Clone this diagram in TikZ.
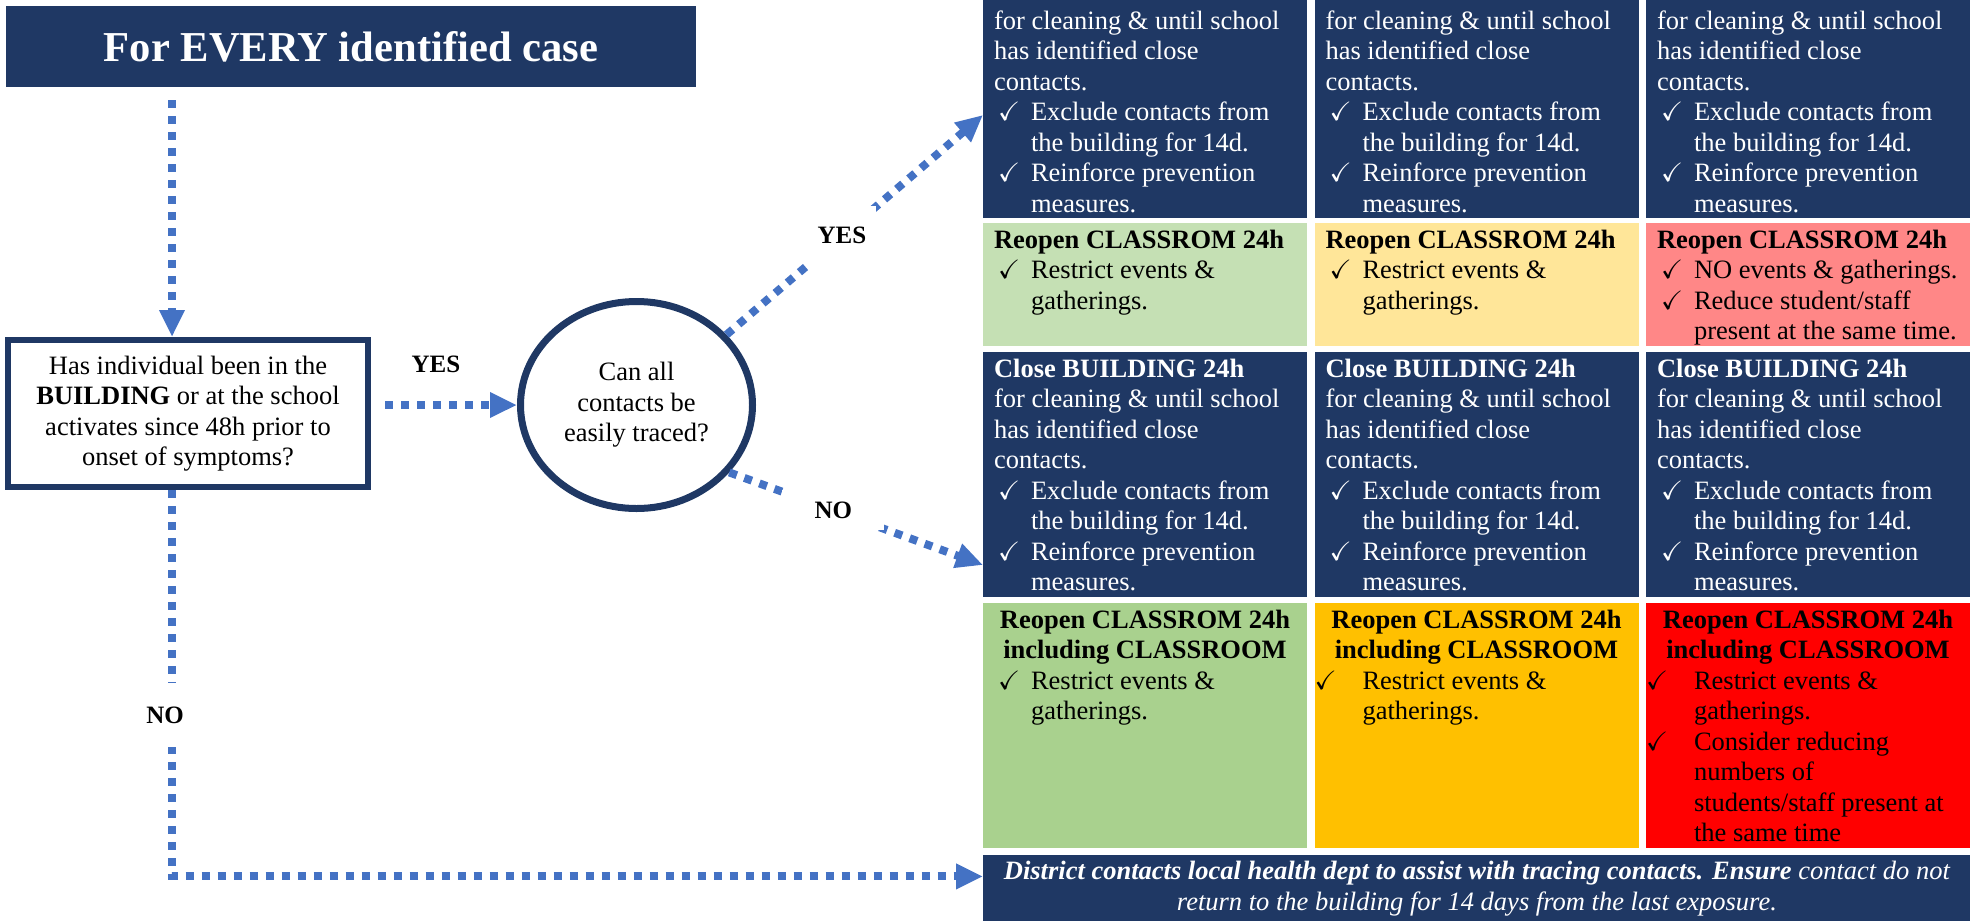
\documentclass[tikz,border=0pt]{standalone}
\usepackage{amssymb}
\usepackage{fontspec}
\setmainfont{Liberation Serif}
\usetikzlibrary{arrows.meta,positioning,shapes.geometric}
\definecolor{navy}{RGB}{31,56,100}
\definecolor{flowblue}{RGB}{68,114,196}
\definecolor{palegreen}{RGB}{197,224,180}
\definecolor{paleyellow}{RGB}{255,230,153}
\definecolor{palered}{RGB}{255,135,135}
\definecolor{midgreen}{RGB}{169,209,142}
\definecolor{amber}{RGB}{255,192,0}
\definecolor{alertred}{RGB}{255,0,0}

% ticked item with hanging indent, optional shift of the tick
\newcommand{\ck}[1][2pt]{\par\hangindent=18.5pt\hangafter=1\noindent\makebox[18.5pt][l]{\hspace*{#1}$\checkmark$}}
% fixed-height cell, text hung from the top
\newcommand{\cellbox}[2]{\parbox[c][#1][t]{151pt}{\fontsize{13.25pt}{15.25pt}\selectfont\rule{0pt}{12.5pt}#2}}
\newcommand{\closetext}{for cleaning \& until school\\has identified close\\contacts.\ck Exclude contacts from\\the building for 14d.\ck Reinforce prevention\\measures.}
\newcommand{\reopenhead}{{\centering\bfseries Reopen CLASSROM 24h\\including CLASSROOM\par}}

\begin{document}
\begin{tikzpicture}[x=0.5pt,y=-0.5pt,
  txt/.style={font=\fontsize{13.25pt}{15.25pt}\selectfont},
  lbl/.style={font=\fontsize{12.5pt}{15pt}\selectfont\bfseries},
  gap/.style={lbl,fill=white},
  cell/.style={anchor=north west,inner xsep=5.5pt,inner ysep=0pt,outer sep=0pt},
  flow/.style={draw=flowblue,line width=4pt,dash pattern=on 4pt off 4pt,-{Triangle[length=13.5pt,width=12pt]}}]
\useasboundingbox (0,0) rectangle (1980,921);

% left side: start, question, decision
\node[fill=navy,text=white,minimum width=345pt,minimum height=40.5pt,font=\fontsize{21.3pt}{25pt}\selectfont\bfseries] (title) at (351,46.5) {For EVERY identified case};
\node[txt,draw=navy,line width=3pt,minimum width=180pt,minimum height=73.5pt,align=center] (ask) at (188,413.5) {Has individual been in the\\\textbf{BUILDING} or at the school\\activates since 48h prior to\\onset of symptoms?};
\node[txt,ellipse,draw=navy,line width=3.5pt,minimum width=116pt,minimum height=103.5pt,inner sep=0pt,align=center] (trace) at (636.5,405) {Can all\\contacts be\\easily traced?};

% navy rows
\foreach \x [count=\i] in {983,1314.5,1646}{
  \node[cell,fill=navy,text=white] (a\i) at (\x,0) {\cellbox{109pt}{\rule{0pt}{14.5pt}\closetext}};
  \node[cell,fill=navy,text=white] (c\i) at (\x,352) {\cellbox{122.5pt}{\textbf{Close BUILDING 24h}\\\closetext}};
}
% reopen rows
\node[cell,fill=palegreen] (b1) at (983,223) {\cellbox{61.5pt}{\textbf{Reopen CLASSROM 24h}\ck Restrict events \&\\gatherings.}};
\node[cell,fill=paleyellow] (b2) at (1314.5,223) {\cellbox{61.5pt}{\textbf{Reopen CLASSROM 24h}\ck Restrict events \&\\gatherings.}};
\node[cell,fill=palered] (b3) at (1646,223) {\cellbox{61.5pt}{\textbf{Reopen CLASSROM 24h}\ck \mbox{NO events \& gatherings.}\ck Reduce student/staff\\\mbox{present at the same time.}}};
\node[cell,fill=midgreen] (d1) at (983,603) {\cellbox{122.5pt}{\reopenhead\ck Restrict events \&\\gatherings.}};
\node[cell,fill=amber] (d2) at (1314.5,603) {\cellbox{122.5pt}{\reopenhead\ck[-5.5pt]Restrict events \&\\gatherings.}};
\node[cell,fill=alertred] (d3) at (1646,603) {\cellbox{122.5pt}{\reopenhead\ck[-5.5pt]Restrict events \&\\gatherings.\ck[-5.5pt]Consider reducing\\numbers of\\students/staff present at\\the same time}};
\node[anchor=north west,fill=navy,text=white,minimum width=493.5pt,minimum height=33pt,inner sep=0pt,align=center,font=\fontsize{13.25pt}{15.5pt}\selectfont\itshape] (advice) at (983,855) {\textbf{District contacts local health dept to assist with tracing contacts. Ensure} contact do not\\return to the building for 14 days from the last exposure.};

% connectors
\coordinate (drop) at ([xshift=-8pt]ask.north);
\coordinate (advin) at ([yshift=6pt]advice.west);
\draw[flow,shorten <=6.5pt] (drop |- title.south) -- (drop);
\draw[flow,shorten <=7pt] (trace.west -| ask.east) -- node[lbl,above=11pt,xshift=-4pt] {YES} (trace.west);
\draw[flow] (trace.38) -- node[gap,pos=0.45,minimum width=34pt,minimum height=30pt] {YES} ([yshift=-3pt]a1.west);
\draw[flow] (trace.-36) -- node[gap,pos=0.41,minimum width=51pt,minimum height=20pt] {NO} ([yshift=16pt]c1.south west);
\draw[flow] (drop |- ask.south) -- node[gap,pos=0.583,xshift=-3.5pt,minimum width=20pt,minimum height=32pt] {NO} (drop |- advin) -- (advin);
\end{tikzpicture}
\end{document}
